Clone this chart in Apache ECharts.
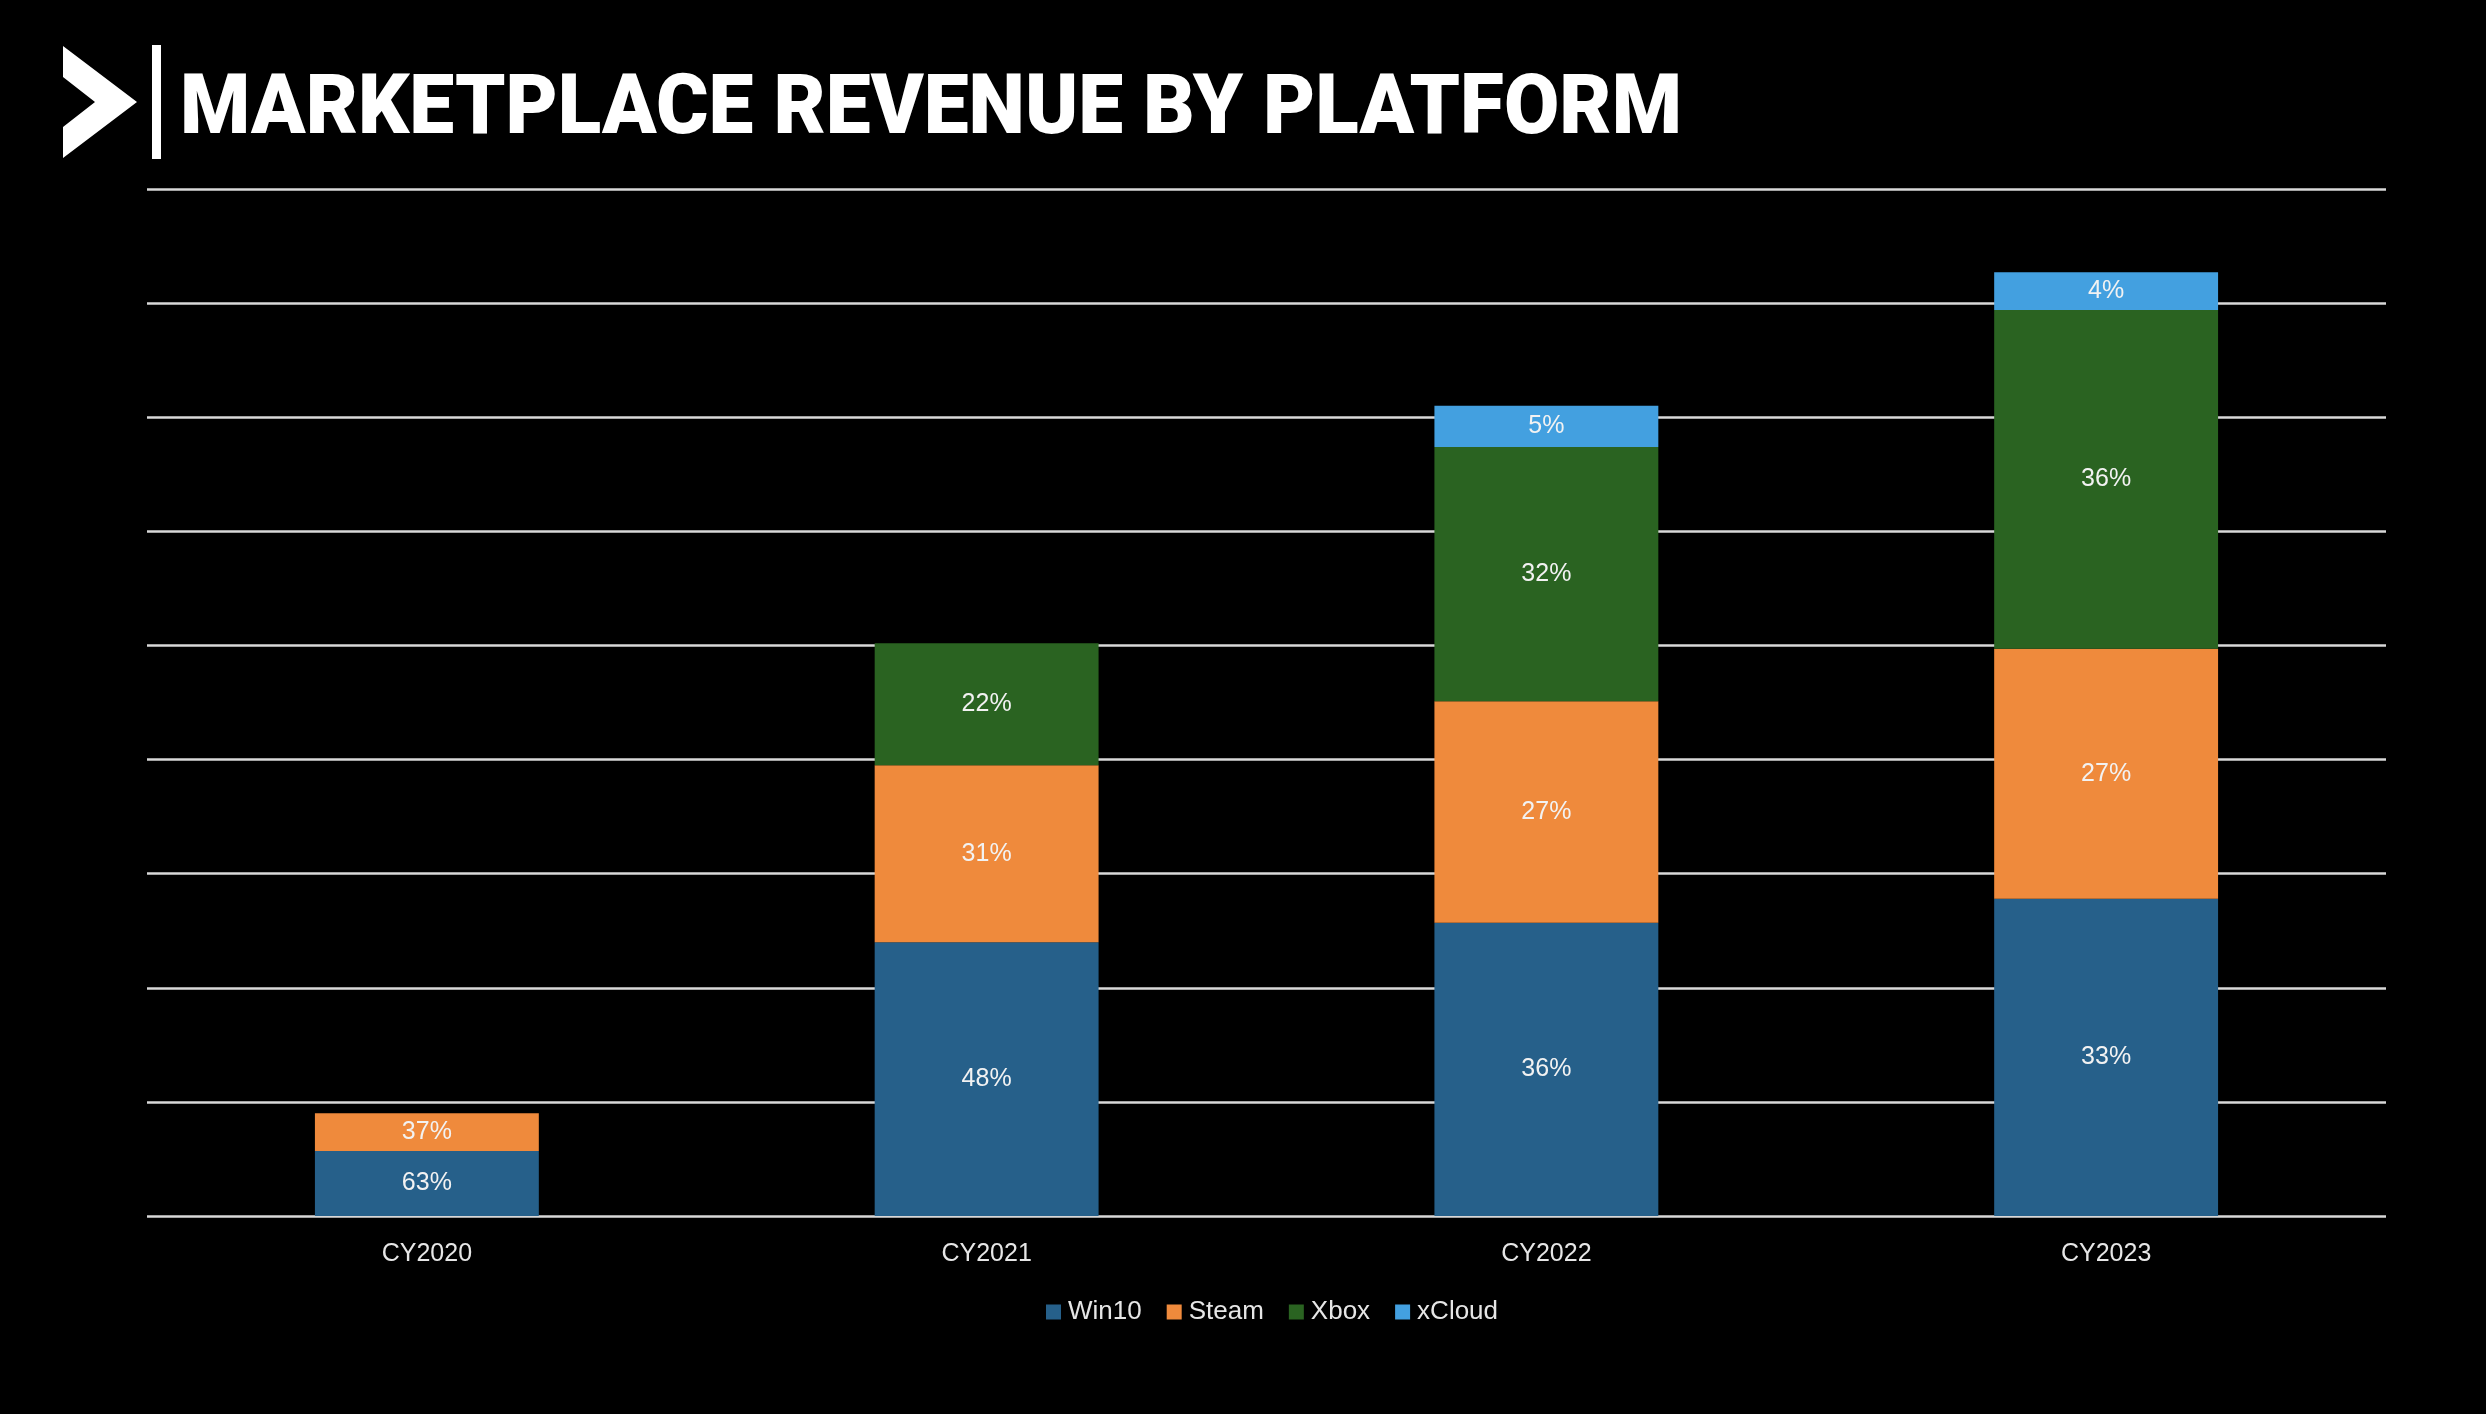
<!DOCTYPE html>
<html>
<head>
<meta charset="utf-8">
<script src="https://cdn.jsdelivr.net/npm/echarts@6/dist/echarts.min.js"></script>
<style>
html,body{margin:0;padding:0;background:#000;}
#chart{width:2486px;height:1414px;}
</style>
</head>
<body>
<div id="chart"></div>
<script>
// ---- data (heights in gridline units, labels in percent) ----
const categories = ['CY2020', 'CY2021', 'CY2022', 'CY2023'];
const seriesNames = ['Win10', 'Steam', 'Xbox', 'xCloud'];
const win10 = [0.57, 2.40, 2.57, 2.78];
const steam = [0.33, 1.55, 1.94, 2.19];
const xbox = [null, 1.07, 2.23, 2.97];
const xcloud = [null, null, 0.36, 0.33];
const win10Pct = [63, 48, 36, 33];
const steamPct = [37, 31, 27, 27];
const xboxPct = [null, 22, 32, 36];
const xcloudPct = [null, null, 5, 4];
const titleText = 'MARKETPLACE REVENUE BY PLATFORM';

const colors = ['#26608a', '#ef8a3c', '#2a6321', '#43a0e0'];

const chart = echarts.init(document.getElementById('chart'), null, {renderer: 'canvas'});

// fit title width
const titleFont = '900 84px Roboto';
const cv = document.createElement('canvas').getContext('2d');
cv.font = titleFont;
const measured = cv.measureText(titleText).width || 1500;
const titleScale = 1502 / measured;

function mkSeries(name, data, pct, color) {
  return {
    name: name,
    type: 'bar',
    stack: 'total',
    barWidth: '40%',
    data: data,
    itemStyle: {color: color},
    label: {
      show: true,
      position: 'inside',
      color: '#f2f2f2',
      fontFamily: 'Liberation Sans, Arial, sans-serif',
      fontSize: 25,
      formatter: p => pct[p.dataIndex] == null ? '' : pct[p.dataIndex] + '%'
    },
    emphasis: {disabled: true}
  };
}

chart.setOption({
  backgroundColor: '#000',
  animation: false,
  grid: {left: 147, right: 100, top: 189, bottom: 198, containLabel: false},
  legend: {
    data: seriesNames,
    top: 1294,
    left: 1041,
    itemWidth: 15,
    itemHeight: 15,
    itemGap: 25,
    icon: 'rect',
    textStyle: {color: '#e6e6e6', fontSize: 26, padding: [0, 0, 0, 2], fontFamily: 'Liberation Sans, Arial, sans-serif'}
  },
  xAxis: {
    type: 'category',
    data: categories,
    axisLine: {show: false},
    axisTick: {show: false},
    axisLabel: {color: '#e6e6e6', fontSize: 25, margin: 26, fontFamily: 'Liberation Sans, Arial, sans-serif'}
  },
  yAxis: {
    type: 'value',
    min: 0,
    max: 9,
    interval: 1,
    axisLine: {show: false},
    axisTick: {show: false},
    axisLabel: {show: false},
    splitLine: {lineStyle: {color: '#d9d9d9', width: 2.5}}
  },
  series: [
    mkSeries('Win10', win10, win10Pct, colors[0]),
    mkSeries('Steam', steam, steamPct, colors[1]),
    mkSeries('Xbox', xbox, xboxPct, colors[2]),
    mkSeries('xCloud', xcloud, xcloudPct, colors[3])
  ],
  graphic: [
    {
      type: 'polygon',
      shape: {points: [[63, 46], [137, 102], [63, 158], [63, 127], [95, 102], [63, 77]]},
      style: {fill: '#ffffff'}
    },
    {
      type: 'rect',
      shape: {x: 152, y: 45, width: 9, height: 114},
      style: {fill: '#ffffff'}
    },
    {
      type: 'text',
      x: 180,
      y: 112,
      scaleX: titleScale,
      style: {
        text: titleText,
        font: titleFont,
        fill: '#ffffff',
        textAlign: 'left',
        textVerticalAlign: 'middle'
      }
    }
  ]
});
</script>
</body>
</html>
